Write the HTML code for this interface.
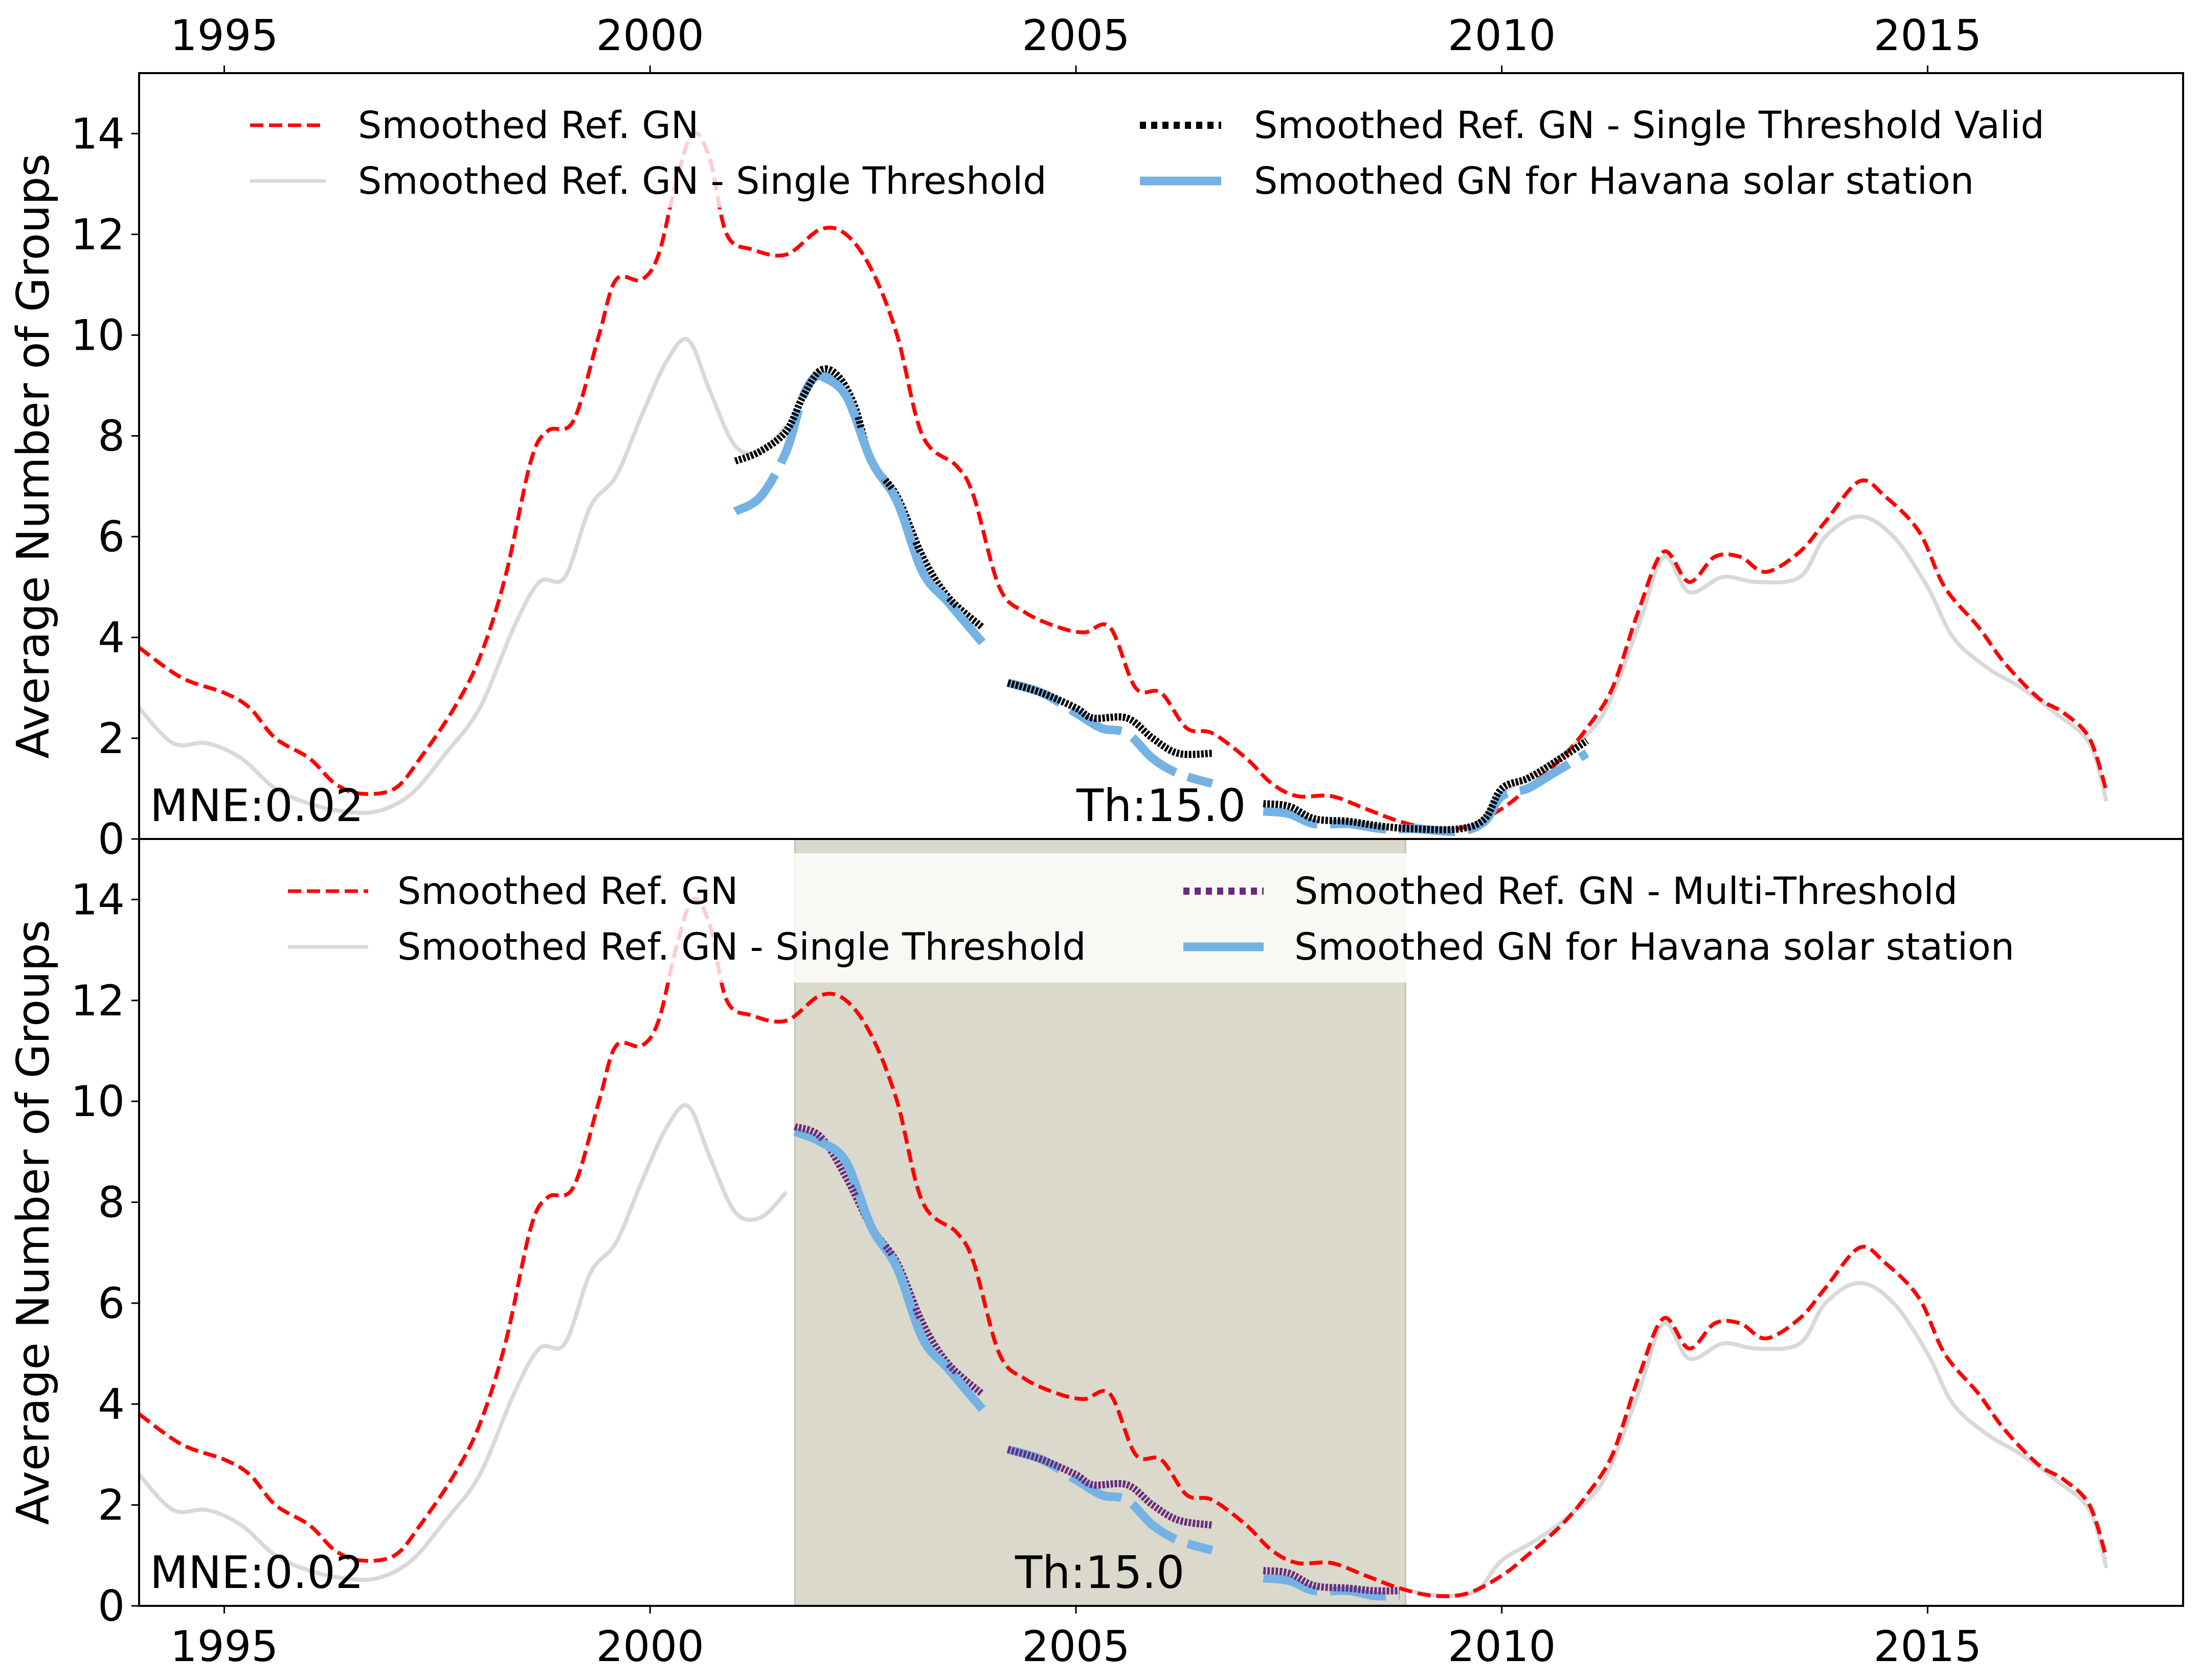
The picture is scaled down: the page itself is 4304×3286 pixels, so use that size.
<!DOCTYPE html>
<html><head><meta charset="utf-8"><style>
html,body{margin:0;padding:0;background:#fff;}
svg{display:block;font-family:"DejaVu Sans","Liberation Sans",sans-serif;}
</style></head><body>
<svg id="chart" width="4304" height="3286" viewBox="0 0 4304 3286" xmlns="http://www.w3.org/2000/svg">
<g id="root"></g>
</svg>
<script>
const xTicks=[1995,2000,2005,2010,2015];
const yTicks=[0,2,4,6,8,10,12,14];
const redX=[1994,1994.5,1995,1995.3,1995.6,1996,1996.3,1996.6,1997,1997.3,1997.7,1998,1998.3,1998.6,1998.8,1999.1,1999.4,1999.6,1999.9,2000.1,2000.3,2000.5,2000.7,2000.9,2001.2,2001.6,2002.0,2002.3,2002.6,2002.9,2003.2,2003.6,2003.8,2004.1,2004.4,2004.8,2005.1,2005.4,2005.7,2006.0,2006.3,2006.6,2007.0,2007.3,2007.6,2008.0,2008.4,2008.8,2009.2,2009.6,2010.0,2010.3,2010.7,2011.0,2011.3,2011.6,2011.9,2012.2,2012.5,2012.8,2013.1,2013.5,2013.8,2014.2,2014.5,2014.9,2015.2,2015.6,2015.9,2016.3,2016.6,2016.9,2017.1];
const redY=[3.8,3.2,2.9,2.6,2.0,1.6,1.1,0.9,1.0,1.6,2.6,3.6,5.2,7.5,8.1,8.3,10.0,11.1,11.1,11.6,13.0,14.0,13.5,12.0,11.7,11.6,12.1,12.0,11.3,10.0,8.0,7.4,6.8,5.0,4.5,4.2,4.1,4.2,3.0,2.9,2.2,2.1,1.6,1.1,0.85,0.85,0.6,0.35,0.2,0.25,0.6,1.0,1.6,2.2,3.0,4.5,5.7,5.1,5.6,5.6,5.3,5.7,6.3,7.1,6.8,6.1,5.0,4.2,3.5,2.8,2.5,2.0,0.95];
const grayAX=[1994,1994.4,1994.8,1995.2,1995.6,1996,1996.4,1996.8,1997.2,1997.6,1998,1998.4,1998.7,1999.0,1999.3,1999.6,1999.9,2000.2,2000.45,2000.7,2001.0,2001.3,2001.6];
const grayAY=[2.6,1.9,1.9,1.6,1.0,0.7,0.55,0.55,0.9,1.7,2.6,4.2,5.1,5.2,6.6,7.2,8.4,9.5,9.9,8.9,7.8,7.7,8.2];
const grayBX=[2008.9,2009.3,2009.7,2010.0,2010.4,2010.8,2011.2,2011.6,2011.9,2012.2,2012.6,2013.0,2013.5,2013.8,2014.2,2014.6,2015.0,2015.3,2015.7,2016.1,2016.5,2016.9,2017.1];
const grayBY=[0.3,0.2,0.3,0.9,1.3,1.8,2.5,4.2,5.6,4.9,5.2,5.1,5.2,6.0,6.4,6.0,5.0,4.0,3.4,3.0,2.5,1.9,0.75];
const blk1X=[2001.0,2001.3,2001.6,2001.8,2002.0,2002.2,2002.4,2002.6,2002.9,2003.2,2003.5,2003.9];
const blk1Y=[7.5,7.7,8.1,8.8,9.3,9.2,8.6,7.5,6.8,5.6,4.8,4.2];
const blk2X=[2004.2,2004.6,2005.0,2005.2,2005.6,2005.9,2006.2,2006.6];
const blk2Y=[3.1,2.9,2.6,2.4,2.4,2.0,1.7,1.7];
const blk3X=[2007.2,2007.5,2007.8,2008.2,2008.6,2009.0,2009.5,2009.8,2010.0,2010.3,2010.6,2011.0];
const blk3Y=[0.7,0.65,0.4,0.35,0.25,0.2,0.2,0.4,1.0,1.2,1.5,1.95];
const blu1X=[2001.0,2001.3,2001.6,2001.8,2002.0,2002.3,2002.6,2002.9,2003.2,2003.5,2003.9];
const blu1Y=[6.5,6.8,7.7,8.8,9.2,8.8,7.5,6.7,5.3,4.7,3.9];
const blu2X=[2004.2,2004.6,2005.0,2005.3,2005.6,2005.9,2006.2,2006.6];
const blu2Y=[3.1,2.9,2.5,2.2,2.1,1.6,1.3,1.1];
const blu3X=[2007.2,2007.5,2007.8,2008.2,2008.6,2009.0,2009.5,2009.8,2010.0,2010.3,2010.6,2011.0];
const blu3Y=[0.55,0.5,0.3,0.3,0.2,0.2,0.15,0.35,0.85,1.0,1.3,1.7];
const pur1X=[2001.7,2002.0,2002.3,2002.6,2002.9,2003.2,2003.5,2003.9];
const pur1Y=[9.5,9.3,8.5,7.5,6.8,5.6,4.8,4.2];
const pur2X=[2004.2,2004.6,2005.0,2005.2,2005.6,2005.9,2006.2,2006.6];
const pur2Y=[3.1,2.9,2.6,2.4,2.4,2.0,1.7,1.6];
const pur3X=[2007.2,2007.5,2007.8,2008.2,2008.5,2008.8];
const pur3Y=[0.7,0.65,0.4,0.35,0.3,0.3];
const bb1X=[2001.7,2002.0,2002.3,2002.6,2002.9,2003.2,2003.5,2003.9];
const bb1Y=[9.4,9.2,8.8,7.5,6.7,5.3,4.7,3.9];
const bb3X=[2007.2,2007.5,2007.8,2008.2,2008.5,2008.8];
const bb3Y=[0.55,0.5,0.3,0.3,0.2,0.2];
const shadeStart=2001.7, shadeEnd=2008.87;

const NS="http://www.w3.org/2000/svg";
const root=document.getElementById('root');
const L=272,R=4269,X0=1994,X1=2018,YMAX=15.2;
function sx(v){return L+(v-X0)/(X1-X0)*(R-L);}
function mk(tag,attrs,parent){const e=document.createElementNS(NS,tag);for(const k in attrs)e.setAttribute(k,attrs[k]);(parent||root).appendChild(e);return e;}
function smooth(xs,ys,sy){
  const p=xs.map((x,i)=>[sx(x),sy(ys[i])]);
  let d=`M${p[0][0]},${p[0][1]}`;
  for(let i=0;i<p.length-1;i++){
    const p0=p[i-1]||p[i],p1=p[i],p2=p[i+1],p3=p[i+2]||p2;
    const c1=[p1[0]+(p2[0]-p0[0])/6,p1[1]+(p2[1]-p0[1])/6];
    const c2=[p2[0]-(p3[0]-p1[0])/6,p2[1]-(p3[1]-p1[1])/6];
    d+=` C${c1[0]},${c1[1]} ${c2[0]},${c2[1]} ${p2[0]},${p2[1]}`;
  }
  return d;
}
function panel(top,bottom,isTop){
  const sy=v=>bottom-v/YMAX*(bottom-top);
  const g=mk('g',{});
  
  
  const clipId='clip'+(isTop?'T':'B');
  const cp=mk('clipPath',{id:clipId},g);mk('rect',{x:L,y:top,width:R-L,height:bottom-top},cp);
  const pg=mk('g',{'clip-path':`url(#${clipId})`},g);
  if(!isTop){
    const sh=mk('rect',{x:sx(shadeStart),y:top,width:sx(shadeEnd)-sx(shadeStart),height:bottom-top,fill:'#dad9cc',stroke:'#c4c3b4','stroke-width':3},pg);
    
    
  }
  function line(xs,ys,st,name){const e=mk('path',Object.assign({d:smooth(xs,ys,sy),fill:'none','stroke-linejoin':'round'},st),pg);
    
    }
  const gray={stroke:'#d9d9d9','stroke-width':8};
  line(grayAX,grayAY,gray,'gray-single-threshold-a');
  line(grayBX,grayBY,gray,'gray-single-threshold-b');
  line(redX,redY,{stroke:'#ff0000','stroke-width':7.5,'stroke-dasharray':'26 11'},'red-smoothed-ref-gn');
  const blue={stroke:'#74b2e4','stroke-width':17,'stroke-dasharray':'110 25'};
  if(isTop){
    const bk={stroke:'#000','stroke-width':14,'stroke-dasharray':'5 3'};
    line(blu1X,blu1Y,blue,'havana-seg-1');line(blu2X,blu2Y,blue,'havana-seg-2');line(blu3X,blu3Y,blue,'havana-seg-3');
    line(blk1X,blk1Y,bk,'single-valid-seg-1');line(blk2X,blk2Y,bk,'single-valid-seg-2');line(blk3X,blk3Y,bk,'single-valid-seg-3');
    line(blu1X.slice(4),blu1Y.slice(4),blue,'havana-seg-1-front');
  } else {
    const pu={stroke:'#6b2a7c','stroke-width':14,'stroke-dasharray':'5 3'};
    line(bb1X,bb1Y,blue,'havana-seg-1');line(blu2X,blu2Y,blue,'havana-seg-2');line(bb3X,bb3Y,blue,'havana-seg-3');
    line(pur1X,pur1Y,pu,'multi-seg-1');line(pur2X,pur2Y,pu,'multi-seg-2');line(pur3X,pur3Y,pu,'multi-seg-3');
    line(bb1X.slice(1),bb1Y.slice(1),blue,'havana-seg-1-front');
  }
  const lg=mk('g',{},g);
  
  
  const bx=isTop?[453,170,4090,406]:[522,1669,4008,1922];
  mk('rect',{x:bx[0],y:bx[1],width:bx[2]-bx[0],height:bx[3]-bx[1],fill:'#fff','fill-opacity':0.8},lg);
  const c1=isTop?[489,637,700]:[563,720,777], c2=isTop?[2229,2388,2452]:[2314,2471,2531];
  const r1=top+110, r2=top+219;
  const entries=isTop?[
    [c1,r1,'Smoothed Ref. GN',{stroke:'#ff0000','stroke-width':7,'stroke-dasharray':'26 11'}],
    [c1,r2,'Smoothed Ref. GN - Single Threshold',{stroke:'#d9d9d9','stroke-width':7}],
    [c2,r1,'Smoothed Ref. GN - Single Threshold Valid',{stroke:'#000','stroke-width':14,'stroke-dasharray':'12 10'}],
    [c2,r2,'Smoothed GN for Havana solar station',{stroke:'#74b2e4','stroke-width':17}]
  ]:[
    [c1,r1,'Smoothed Ref. GN',{stroke:'#ff0000','stroke-width':7,'stroke-dasharray':'26 11'}],
    [c1,r2,'Smoothed Ref. GN - Single Threshold',{stroke:'#d9d9d9','stroke-width':7}],
    [c2,r1,'Smoothed Ref. GN - Multi-Threshold',{stroke:'#6b2a7c','stroke-width':14,'stroke-dasharray':'12 10'}],
    [c2,r2,'Smoothed GN for Havana solar station',{stroke:'#74b2e4','stroke-width':17}]
  ];
  entries.forEach(en=>{
    const [c,y,txt,st]=en;
    mk('line',Object.assign({x1:c[0],x2:c[1],y1:y-8,y2:y-8},st),lg);
    const t=mk('text',{x:c[2],y:y+17,'font-size':73,fill:'#000'},lg);t.textContent=txt;
    
    
  });
  mk('rect',{x:L,y:top,width:R-L,height:bottom-top,fill:'none',stroke:'#000','stroke-width':4},g);
  yTicks.forEach(v=>{
    const y=sy(v);
    mk('line',{x1:L-15,x2:L,y1:y,y2:y,stroke:'#000','stroke-width':3},g);
    const t=mk('text',{x:L-28,y:y+29,'font-size':83,'text-anchor':'end'},g);t.textContent=v;
    
    
  });
  xTicks.forEach(v=>{
    const x=sx(v);
    if(isTop){mk('line',{x1:x,x2:x,y1:top-15,y2:top,stroke:'#000','stroke-width':3},g);}
    else{mk('line',{x1:x,x2:x,y1:bottom,y2:bottom+15,stroke:'#000','stroke-width':3},g);}
    const t=mk('text',{x:x,y:isTop?top-45:bottom+108,'font-size':83,'text-anchor':'middle'},g);t.textContent=v;
    
    
  });
  const yl=mk('text',{x:0,y:0,'font-size':87,'text-anchor':'middle',transform:`translate(95,${(top+bottom)/2}) rotate(-90)`},g);
  yl.textContent='Average Number of Groups';
  
  
  const m=mk('text',{x:293,y:bottom-35,'font-size':87},g);m.textContent='MNE:0.02';
  
  
  const th=mk('text',{x:isTop?2105:1985,y:bottom-35,'font-size':87},g);th.textContent='Th:15.0';
  
  
}
panel(143,1641,true);
panel(1641,3141,false);
</script>
</body></html>
